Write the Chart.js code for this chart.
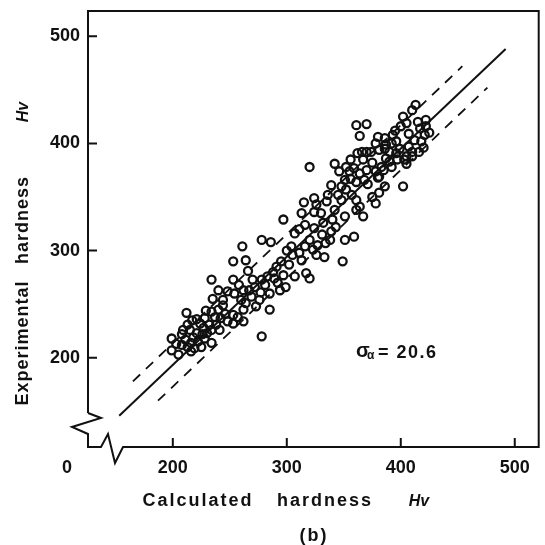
<!DOCTYPE html>
<html>
<head>
<meta charset="utf-8">
<script src="https://cdn.jsdelivr.net/npm/chart.js@4.4.1/dist/chart.umd.min.js"></script>
<style>
  html, body { margin: 0; padding: 0; background: #fff; }
  #wrap { width: 545px; height: 545px; }
</style>
</head>
<body>
<div id="wrap"><canvas id="chart" width="545" height="545"></canvas></div>
<script>
// calculated (x) vs experimental (y) hardness
const calcX = [
  315, 313, 297, 307, 311, 316, 339, 331, 334, 278, 286, 261, 304, 316, 323, 327, 333, 351, 359,
  253, 264, 295, 291, 288, 302, 307, 317, 320, 349, 234, 253, 270, 278, 283, 289,
  240, 235, 244, 254, 262, 267, 269, 276, 264, 260, 285, 294, 299, 285, 273, 262, 257, 253,
  253, 262, 278,
  244, 212, 234, 240, 237, 228, 224, 213, 215, 221, 227, 230, 234, 241, 248,
  199, 211, 216, 222, 228, 234, 208, 213, 219, 225, 216, 199, 205,
  361, 370, 364, 362, 367, 342, 346, 320, 355, 359, 364, 370, 351, 356, 361, 368,
  348, 339, 345, 348, 361, 364, 367, 361, 351, 342, 335, 324, 326, 324, 332, 340,
  381, 375, 378, 383, 390, 397, 405, 410, 381,
  413, 410, 422, 415, 405, 400, 422, 421, 418, 416, 407, 393, 386, 380, 378, 387,
  396, 399, 407, 410, 405, 396, 390, 381, 374, 403, 387, 378, 380, 386, 402,
  324, 277, 281, 292, 297, 272, 258, 248, 266, 305, 311, 320, 300, 313, 326, 338,
  343, 330, 336, 352, 357, 371, 375, 385, 392, 395, 402, 417, 425, 412, 420, 392,
  386, 370, 356, 352, 366,
  203, 208, 218, 226, 232, 238, 221, 229, 246, 242, 209, 217
];
const expY = [
  345, 335, 329, 316, 320, 324, 318, 315, 307, 310, 308, 304, 304, 304, 301, 305, 294, 310, 313,
  290, 291, 290, 285, 280, 287, 276, 279, 274, 290, 273, 273, 273, 273, 276, 274,
  263, 255, 254, 260, 263, 263, 257, 254, 251, 254, 260, 263, 266, 245, 248, 245, 238, 240,
  232, 234, 220,
  249, 242, 243, 245, 238, 237, 232, 231, 226, 223, 228, 223, 226, 226, 234,
  218, 217, 214, 215, 218, 214, 212, 210, 209, 210, 206, 207, 203,
  417, 418, 407, 391, 385, 381, 374, 378, 374, 377, 372, 375, 366, 367, 364, 366,
  360, 361, 352, 347, 347, 341, 332, 338, 332, 338, 346, 349, 343, 336, 326, 329,
  354, 350, 344, 378, 383, 385, 381, 388, 369,
  436, 431, 422, 420, 419, 416, 416, 408, 402, 392, 409, 408, 405, 406, 400, 399,
  402, 395, 397, 392, 388, 391, 392, 394, 392, 385, 386, 374, 368, 360, 360,
  321, 261, 268, 270, 277, 266, 268, 262, 281, 296, 298, 310, 300, 291, 296, 310,
  322, 335, 352, 357, 352, 362, 382, 375, 378, 412, 425, 414, 410, 403, 396, 400,
  395, 392, 385, 378, 392,
  213, 222, 219, 222, 231, 231, 236, 244, 241, 237, 226, 235
];

// solid line and the two dashed bands
const fitX = [153, 492];
const fitY = [146, 488];
const upperX = [165, 454];
const upperY = [178, 472];
const lowerX = [187, 476];
const lowerY = [160, 452];

const xTicks = [200, 300, 400, 500];
const yTicks = [200, 300, 400, 500];
const xRange = [125.6, 521];
const yRange = [116.8, 523.5];

const xTitle = ["Calculated", "hardness", "Hv"];
const yTitle = ["Experimental", "hardness", "Hv"];
const panelLabel = "(b)";
const sigmaText = "= 20.6";

const toPoints = (xs, ys) => xs.map((x, i) => ({ x, y: ys[i] }));

const FONT = '"Liberation Sans", Arial, sans-serif';

const framePlugin = {
  id: "frame",
  afterDraw(chart) {
    const { ctx, chartArea } = chart;
    const { left, top, right, bottom } = chartArea;
    const xs = chart.scales.x;
    const ys = chart.scales.y;
    ctx.save();
    ctx.strokeStyle = "#111";
    ctx.fillStyle = "#111";
    ctx.lineWidth = 2;
    ctx.lineJoin = "miter";

    // frame with the two axis breaks at the origin corner
    ctx.beginPath();
    ctx.moveTo(left, bottom - 34);
    ctx.lineTo(left, top);
    ctx.lineTo(right, top);
    ctx.lineTo(right, bottom);
    ctx.lineTo(left + 35, bottom);
    ctx.lineTo(left + 27, bottom + 16);
    ctx.lineTo(left + 20, bottom - 13);
    ctx.lineTo(left + 13, bottom);
    ctx.lineTo(left, bottom);
    ctx.lineTo(left, bottom - 13);
    ctx.lineTo(left - 16, bottom - 20);
    ctx.lineTo(left + 13, bottom - 29);
    ctx.lineTo(left, bottom - 34);
    ctx.stroke();

    // inward ticks
    ctx.beginPath();
    xTicks.forEach((v) => {
      const px = xs.getPixelForValue(v);
      ctx.moveTo(px, bottom);
      ctx.lineTo(px, bottom - 9);
    });
    yTicks.forEach((v) => {
      const py = ys.getPixelForValue(v);
      ctx.moveTo(left, py);
      ctx.lineTo(left + 9, py);
    });
    ctx.stroke();

    // tick labels
    ctx.font = `bold 18px ${FONT}`;
    ctx.textBaseline = "middle";
    ctx.textAlign = "center";
    xTicks.forEach((v) => ctx.fillText(String(v), xs.getPixelForValue(v), bottom + 21));
    ctx.fillText("0", left - 21, bottom + 21);
    ctx.textAlign = "right";
    yTicks.forEach((v) => ctx.fillText(String(v), left - 8, ys.getPixelForValue(v)));

    // x title
    ctx.textAlign = "center";
    ctx.letterSpacing = "2px";
    ctx.fillText(xTitle[0], 198, 501);
    ctx.fillText(xTitle[1], 325, 501);
    ctx.fillText(panelLabel, 314, 536);
    ctx.letterSpacing = "0px";
    ctx.font = `italic bold 16px ${FONT}`;
    ctx.fillText(xTitle[2], 419, 502);

    // y title (rotated)
    ctx.save();
    ctx.translate(23, 0);
    ctx.rotate(-Math.PI / 2);
    ctx.font = `bold 18px ${FONT}`;
    ctx.letterSpacing = "1px";
    ctx.fillText(yTitle[0], -343, 0);
    ctx.fillText(yTitle[1], -220, 0);
    ctx.letterSpacing = "0px";
    ctx.font = `italic bold 16px ${FONT}`;
    ctx.fillText(yTitle[2], -112, 1);
    ctx.restore();

    // sigma annotation
    ctx.textAlign = "left";
    ctx.font = `bold 20px ${FONT}`;
    ctx.fillText("σ", 356, 351);
    ctx.font = `bold 12px ${FONT}`;
    ctx.fillText("α", 367, 356);
    ctx.font = `bold 18px ${FONT}`;
    ctx.letterSpacing = "1.5px";
    ctx.fillText(sigmaText, 378, 353);
    ctx.restore();
  },
};

const lineSet = (data, dash) => ({
  type: "scatter",
  data,
  showLine: true,
  borderColor: "#111",
  borderWidth: dash ? 1.8 : 2,
  borderDash: dash ? [10, 8] : [],
  pointRadius: 0,
  fill: false,
});

new Chart(document.getElementById("chart"), {
  type: "scatter",
  data: {
    datasets: [
      lineSet(toPoints(fitX, fitY), false),
      lineSet(toPoints(upperX, upperY), true),
      lineSet(toPoints(lowerX, lowerY), true),
      {
        data: toPoints(calcX, expY),
        pointStyle: "circle",
        pointRadius: 4,
        borderWidth: 2.3,
        borderColor: "#111",
        backgroundColor: "rgba(0,0,0,0)",
      },
    ],
  },
  options: {
    responsive: false,
    animation: false,
    devicePixelRatio: 1,
    layout: { padding: { left: 88, top: 11, right: 5, bottom: 98 } },
    scales: {
      x: { type: "linear", display: false, min: xRange[0], max: xRange[1] },
      y: { type: "linear", display: false, min: yRange[0], max: yRange[1] },
    },
    plugins: { legend: { display: false }, tooltip: { enabled: false } },
  },
  plugins: [framePlugin],
});
</script>
</body>
</html>
